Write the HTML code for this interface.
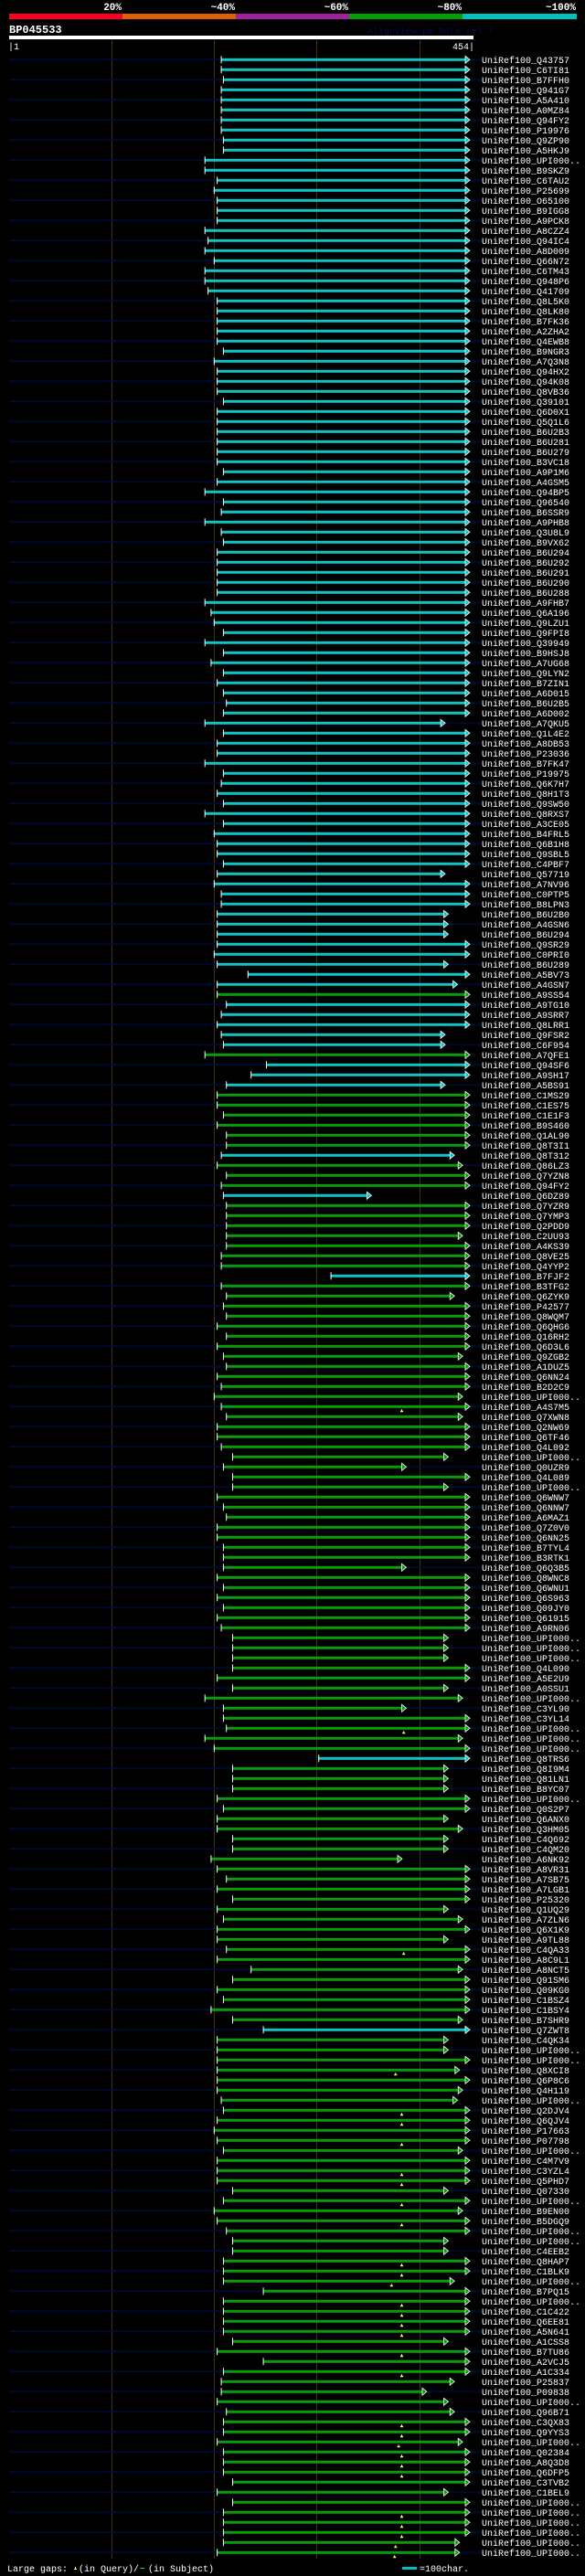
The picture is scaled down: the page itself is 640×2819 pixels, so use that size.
<!DOCTYPE html>
<html><head><meta charset="utf-8"><title>BP045533 alignment overview</title>
<style>
html,body{margin:0;padding:0;background:#000;}
svg{display:block;}
text{font-family:"Liberation Mono",monospace;}
</style></head>
<body>
<svg id="chart" width="640" height="2819" viewBox="0 0 640 2819" xmlns="http://www.w3.org/2000/svg">
<rect x="0" y="0" width="640" height="2819" fill="#000"/>
<g>
<rect x="10" y="15" width="124" height="6" fill="#ff0022"/>
<rect x="134" y="15" width="124" height="6" fill="#e06000"/>
<rect x="258" y="15" width="124" height="6" fill="#a020a0"/>
<rect x="382" y="15" width="124" height="6" fill="#00a000"/>
<rect x="506" y="15" width="125" height="6" fill="#00c0c0"/>
<g fill="#fff" font-size="11" font-weight="bold" text-anchor="end">
<text x="133" y="11">20%</text>
<text x="257" y="11">~40%</text>
<text x="381" y="11">~60%</text>
<text x="505" y="11">~80%</text>
<text x="630" y="11">~100%</text>
</g></g>
<text x="10" y="36" fill="#fff" font-size="12" font-weight="bold">BP045533</text>
<text x="402" y="37" fill="#0a0a55" font-size="10">AlignView.pm Beta rel.7</text>
<rect x="10" y="39" width="508" height="4" fill="#fff"/>
<text x="9" y="54" fill="#fff" font-size="10">|1</text>
<text x="519" y="54" fill="#fff" font-size="10" text-anchor="end">454|</text>
<g id="grid"></g>
<g id="rows"></g>
<g>
<text x="8" y="2814" fill="#fff" font-size="10">Large gaps:</text>
<path d="M81 2812 h3 v-1 h-1 v-2 h-1 v2 h-1 z" fill="#ffff66"/>
<text x="86" y="2814" fill="#fff" font-size="10">(in Query)/</text>
<rect x="153" y="2810" width="5" height="1" fill="#00c0c0"/>
<text x="162" y="2814" fill="#fff" font-size="10">(in Subject)</text>
<rect x="440" y="2809" width="16" height="3" fill="#00c0c0"/>
<text x="459" y="2814" fill="#fff" font-size="10">=100char.</text>
</g>
</svg>
<script>
const queryLength = 454;
const gridTicks = [101, 201, 301, 401];
const hitStarts = [208,208,210,208,208,208,208,208,210,210,192,192,204,201,204,204,204,192,195,192,201,192,192,195,204,204,204,204,204,210,201,
204,204,204,210,204,204,204,204,204,204,210,204,192,210,208,192,208,210,204,204,204,204,204,192,198,201,210,192,210,198,210,
204,210,213,210,192,210,204,204,192,210,208,204,210,192,210,201,204,204,210,204,201,208,208,204,204,204,204,201,204,234,204,204,
213,208,204,208,210,192,252,237,213,204,204,210,204,213,213,208,204,213,208,210,213,213,213,213,213,208,208,315,208,213,210,
213,204,213,204,210,213,204,208,201,208,213,204,204,208,219,210,219,219,204,210,213,204,204,210,210,210,204,210,204,210,204,208,
219,219,219,219,204,219,192,210,210,213,192,201,303,219,219,219,204,210,204,204,219,219,198,204,213,204,219,204,210,204,204,
213,204,237,219,204,210,198,219,249,204,204,204,204,204,204,208,210,204,201,204,210,204,204,204,219,210,201,204,213,219,219,
210,210,210,249,210,210,210,210,219,204,249,210,208,208,204,213,210,210,204,210,210,210,219,204,219,210,210,210,210,204];
const hitEnds = [446,446,446,446,446,446,446,446,446,446,446,446,446,446,446,446,446,446,446,446,446,446,446,446,446,446,446,446,446,446,446,
446,446,446,446,446,446,446,446,446,446,446,446,446,446,446,446,446,446,446,446,446,446,446,446,446,446,446,446,446,446,446,
446,446,446,446,422,446,446,446,446,446,446,446,446,446,446,446,446,446,446,422,446,446,446,425,425,425,446,446,425,446,434,446,
446,446,446,422,422,446,446,446,422,446,446,446,446,446,446,431,439,446,446,350,446,446,446,439,446,446,446,446,446,431,446,
446,446,446,446,439,446,446,446,439,446,439,446,446,446,425,384,446,425,446,446,446,446,446,446,446,384,446,446,446,446,446,446,
425,425,425,446,446,425,439,384,446,446,439,446,446,425,425,425,446,446,425,439,425,425,380,446,446,446,446,425,439,446,425,
446,446,439,446,446,446,446,439,446,425,425,446,436,446,439,434,446,446,446,446,439,446,446,446,425,446,439,446,446,425,425,
446,446,431,446,446,446,446,446,425,446,446,446,431,404,425,431,446,446,439,446,446,446,446,425,446,446,446,446,436,436];
const highIdentityRows = [0,1,2,3,4,5,6,7,8,9,10,11,12,13,14,15,16,17,18,19,20,21,22,23,24,25,26,27,28,29,30,31,32,33,34,35,36,37,38,39,40,41,42,43,44,45,46,47,48,49,50,51,52,53,54,55,56,57,58,59,60,61,62,63,64,65,66,67,68,69,70,71,72,73,74,75,76,77,78,79,80,81,82,83,84,85,86,87,88,89,90,91,92,94,95,96,97,98,100,101,102,109,113,121,169,196];
const gapRows = [134,166,188,200,204,205,207,210,211,213,215,219,220,221,223,224,225,226,228,230,235,236,237,238,239,240,244,245,246,247,248];
const gapPositions = [384,386,386,378,384,384,384,384,384,384,384,384,384,374,384,384,384,384,384,384,384,384,381,384,384,384,384,384,384,378,377];
const hitIds = ["Q43757","C6TI81","B7FFH0","Q941G7","A5A410","A0MZ84","Q94FY2","P19976","Q9ZP90","A5HKJ9","UPI000..","B9SKZ9","C6TAU2","P25699","O65100","B9IGG8","A9PCK8","A8CZZ4","Q94IC4","A8D009","Q66N72","C6TM43","Q948P6","Q41709","Q8L5K0","Q8LK80","B7FK36","A2ZHA2","Q4EWB8","B9NGR3","A7Q3N8",
"Q94HX2","Q94K08","Q8VB36","Q39101","Q6D0X1","Q5Q1L6","B6U2B3","B6U281","B6U279","B3VC18","A9P1M6","A4GSM5","Q94BP5","Q96540","B6SSR9","A9PHB8","Q3U8L9","B9VX62","B6U294","B6U292","B6U291","B6U290","B6U288","A9FHB7","Q6A196","Q9LZU1","Q9FPI8","Q39949","B9HSJ8","A7UG68","Q9LYN2",
"B7ZIN1","A6D015","B6U2B5","A6D002","A7QKU5","Q1L4E2","A8DB53","P23036","B7FK47","P19975","Q6K7H7","Q8H1T3","Q9SW50","Q8RXS7","A3CE05","B4FRL5","Q6B1H8","Q9SBL5","C4PBF7","Q57719","A7NV96","C0PTP5","B8LPN3","B6U2B0","A4GSN6","B6U294","Q9SR29","C0PRI0","B6U289","A5BV73","A4GSN7","A9SS54",
"A9TG10","A9SRR7","Q8LRR1","Q9FSR2","C6F954","A7QFE1","Q94SF6","A9SH17","A5BS91","C1MS29","C1ES75","C1E1F3","B9S460","Q1AL90","Q8T3I1","Q8T312","Q86LZ3","Q7YZN8","Q94FY2","Q6DZ89","Q7YZR9","Q7YMP3","Q2PDD9","C2UU93","A4KS39","Q8VE25","Q4YYP2","B7FJF2","B3TFG2","Q6ZYK9","P42577",
"Q8WQM7","Q6QHG6","Q16RH2","Q6D3L6","Q9ZGB2","A1DUZ5","Q6NN24","B2D2C9","UPI000..","A4S7M5","Q7XWN8","Q2NW69","Q6TF46","Q4L092","UPI000..","Q0UZR9","Q4L089","UPI000..","Q6WNW7","Q6NNW7","A6MAZ1","Q7Z0V0","Q6NN25","B7TYL4","B3RTK1","Q6Q3B5","Q8WNC8","Q6WNU1","Q6S963","Q09JY0","Q61915","A9RN06",
"UPI000..","UPI000..","UPI000..","Q4L090","A5E2U9","A0SSU1","UPI000..","C3YL90","C3YL14","UPI000..","UPI000..","UPI000..","Q8TRS6","Q8I9M4","Q81LN1","B8YC07","UPI000..","Q0S2P7","Q6ANX0","Q3HM05","C4Q692","C4QM20","A6NK92","A8VR31","A7SB75","A7LGB1","P25320","Q1UQ29","A7ZLN6","Q6X1K9","A9TL88",
"C4QA33","A8C9L1","A8NCT5","Q91SM6","Q09KG0","C1BSZ4","C1BSY4","B7SHR9","Q7ZWT8","C4QK34","UPI000..","UPI000..","Q8XCI8","Q6P8C6","Q4H119","UPI000..","Q2DJV4","Q6QJV4","P17663","P07798","UPI000..","C4M7V9","C3YZL4","Q5PHD7","Q07330","UPI000..","B9EN00","B5DGQ9","UPI000..","UPI000..","C4EEB2",
"Q8HAP7","C1BLK9","UPI000..","B7PQ15","UPI000..","C1C422","Q6EE81","A5N641","A1CSS8","B7TU86","A2VCJ5","A1C334","P25837","P09838","UPI000..","Q96B71","C3QX83","Q9YYS3","UPI000..","Q02384","A8Q3D8","Q6DFP5","C3TVB2","C1BEL9","UPI000..","UPI000.."];

const NS = "http://www.w3.org/2000/svg";
const X0 = 10, X1 = 518;
function xScale(r){ return X0 + (r - 1) * (X1 - X0) / (queryLength - 1); }
function yRow(i){ return 65.3 + 11 * i; }

const grid = document.getElementById('grid');
for (let k = 0; k < gridTicks.length; k++) {
  const l = document.createElementNS(NS, 'rect');
  l.setAttribute('x', Math.round(xScale(gridTicks[k])));
  l.setAttribute('y', 44);
  l.setAttribute('width', 1);
  l.setAttribute('height', 2756);
  l.setAttribute('fill', '#38380c');
  
  
  grid.appendChild(l);
}

const rows = document.getElementById('rows');
const hiSet = new Set(highIdentityRows);
for (let i = 0; i < hitStarts.length; i++) {
  const y = yRow(i);
  const g = document.createElementNS(NS, 'g');
  
  
  if (i % 2 === 0) {
    const s = document.createElementNS(NS, 'rect');
    s.setAttribute('x', 10);
    s.setAttribute('y', (y - 1).toFixed(1));
    s.setAttribute('width', 517);
    s.setAttribute('height', 2);
    s.setAttribute('fill', '#000a30');
    
    
    g.appendChild(s);
  }
  const color = hiSet.has(i) ? '#10c4c4' : '#0b9a0b';
  const xs = xScale(hitStarts[i]), xe = xScale(hitEnds[i]);
  const b = document.createElementNS(NS, 'rect');
  b.setAttribute('x', xs.toFixed(1));
  b.setAttribute('y', (y - 1.5).toFixed(1));
  b.setAttribute('width', (xe - xs).toFixed(1));
  b.setAttribute('height', 3);
  b.setAttribute('fill', color);
  
  
  g.appendChild(b);
  const t = document.createElementNS(NS, 'rect');
  t.setAttribute('x', (xs - 0.5).toFixed(1));
  t.setAttribute('y', (y - 4).toFixed(1));
  t.setAttribute('width', 1);
  t.setAttribute('height', 8);
  t.setAttribute('fill', '#fff');
  
  
  g.appendChild(t);
  const a = document.createElementNS(NS, 'polygon');
  a.setAttribute('points', `${xe.toFixed(1)},${(y-4).toFixed(1)} ${(xe+5).toFixed(1)},${y.toFixed(1)} ${xe.toFixed(1)},${(y+4).toFixed(1)}`);
  a.setAttribute('fill', color);
  a.setAttribute('stroke', '#fff');
  a.setAttribute('stroke-width', '0.8');
  
  
  g.appendChild(a);
  const lab = document.createElementNS(NS, 'text');
  lab.setAttribute('x', 527);
  lab.setAttribute('y', (y + 3.5).toFixed(1));
  lab.setAttribute('fill', '#fff');
  lab.setAttribute('font-size', '10');
  lab.textContent = 'UniRef100_' + (hitIds[i] || 'UPI000..');
  
  
  g.appendChild(lab);
  rows.appendChild(g);
}
for (let k = 0; k < gapRows.length; k++) {
  const y = yRow(gapRows[k]);
  const x = xScale(gapPositions[k]);
  const m = document.createElementNS(NS, 'path');
  m.setAttribute('d', `M${(x-1.5).toFixed(1)} ${(y+6).toFixed(1)} h3 v-1.5 h-1 v-1.5 h-1 v1.5 h-1 z`);
  m.setAttribute('fill', '#ffff66');
  
  
  rows.appendChild(m);
}
</script>
</body></html>
